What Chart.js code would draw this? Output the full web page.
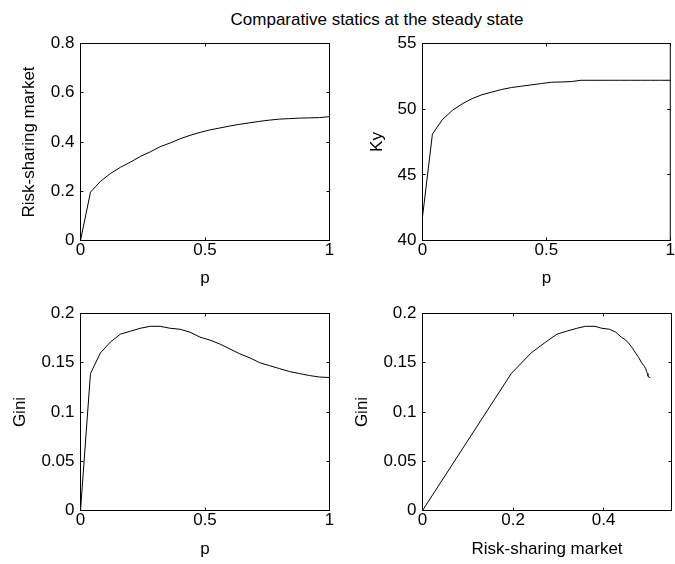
<!DOCTYPE html>
<html>
<head>
<meta charset="utf-8">
<script src="https://cdn.jsdelivr.net/npm/chart.js@4.4.1/dist/chart.umd.min.js"></script>
<style>
    body { margin: 0; background: #fff; }
    #fig { position: relative; width: 675px; height: 564px; overflow: hidden; background: #fff; }
    #fig canvas { position: absolute; left: 0; top: 0; }
    #title {
        position: absolute; left: 377px; top: 10px; transform: translateX(-50%);
        white-space: nowrap; font: 17px "Liberation Sans", Arial, sans-serif;
        line-height: 20px; color: #000;
    }
</style>
</head>
<body>
<div id="fig">
    <div id="title">Comparative statics at the steady state</div>
    <canvas id="marketChart" width="675" height="564"></canvas>
    <canvas id="kyChart" width="675" height="564"></canvas>
    <canvas id="giniChart" width="675" height="564"></canvas>
    <canvas id="giniMarketChart" width="675" height="564"></canvas>
</div>
<script>
// Ma'lumotlar (rasmdan o'qilgan)
const pValues = [0, 0.04, 0.08, 0.12, 0.16, 0.2, 0.24, 0.28, 0.32, 0.36, 0.4, 0.44, 0.48,
    0.52, 0.56, 0.6, 0.64, 0.68, 0.72, 0.76, 0.8, 0.84, 0.88, 0.92, 0.96, 1];
const riskSharing = [0, 0.196, 0.240, 0.272, 0.297, 0.318, 0.341, 0.360, 0.381, 0.396, 0.413,
    0.427, 0.439, 0.449, 0.457, 0.465, 0.472, 0.478, 0.484, 0.489, 0.493, 0.495, 0.497,
    0.498, 0.499, 0.503];
const capitalOutput = [41.8, 48.1, 49.2, 49.9, 50.4, 50.8, 51.1, 51.3, 51.5, 51.65, 51.75,
    51.85, 51.95, 52.05, 52.07, 52.1, 52.2, 52.2, 52.2, 52.2, 52.2, 52.2, 52.2, 52.2, 52.2, 52.2];
const gini = [0, 0.139, 0.160, 0.171, 0.179, 0.182, 0.185, 0.187, 0.187, 0.185, 0.184, 0.181,
    0.176, 0.173, 0.169, 0.164, 0.159, 0.155, 0.150, 0.147, 0.144, 0.141, 0.139, 0.137,
    0.1355, 0.135];

// O'q belgilari
const pTicks = [0, 0.5, 1];
const marketTicks = [0, 0.2, 0.4, 0.6, 0.8];
const marketXTicks = [0, 0.2, 0.4];
const kyTicks = [40, 45, 50, 55];
const giniTicks = [0, 0.05, 0.1, 0.15, 0.2];

Chart.defaults.font.family = '"Liberation Sans", Arial, sans-serif';
Chart.defaults.font.size = 17;
Chart.defaults.color = '#000';

// MATLAB uslubidagi ramka va ichkariga qaragan belgilar
const boxPlugin = {
    id: 'boxPlugin',
    afterDraw(chart) {
        const { ctx, chartArea: a, scales: { x, y } } = chart;
        const len = 3;
        ctx.save();
        ctx.strokeStyle = '#000';
        ctx.lineWidth = 1;
        ctx.strokeRect(a.left, a.top, a.right - a.left, a.bottom - a.top);
        ctx.beginPath();
        x.ticks.forEach(t => {
            const px = Math.round(x.getPixelForValue(t.value) - 0.5) + 0.5;
            ctx.moveTo(px, a.bottom); ctx.lineTo(px, a.bottom - len);
            ctx.moveTo(px, a.top); ctx.lineTo(px, a.top + len);
        });
        y.ticks.forEach(t => {
            const py = Math.round(y.getPixelForValue(t.value) - 0.5) + 0.5;
            ctx.moveTo(a.left, py); ctx.lineTo(a.left + len, py);
            ctx.moveTo(a.right, py); ctx.lineTo(a.right - len, py);
        });
        ctx.stroke();
        ctx.restore();
    }
};

function makePanel(id, cfg) {
    return new Chart(document.getElementById(id), {
        type: 'scatter',
        data: {
            datasets: [{
                data: cfg.points,
                showLine: true,
                borderColor: '#000',
                borderWidth: 1,
                pointRadius: 0,
                tension: 0
            }]
        },
        options: {
            responsive: false,
            animation: false,
            events: [],
            layout: { autoPadding: false, padding: cfg.pad },
            plugins: { legend: { display: false }, tooltip: { enabled: false } },
            scales: {
                x: {
                    type: 'linear',
                    min: cfg.xMin, max: cfg.xMax,
                    grid: { display: false, drawTicks: false },
                    border: { display: false },
                    ticks: { padding: 0, autoSkip: false, maxRotation: 0, callback: v => String(v) },
                    afterBuildTicks: s => { s.ticks = cfg.xTicks.map(v => ({ value: v })); },
                    afterFit: s => { s.height = 50; },
                    title: { display: true, text: cfg.xLabel, padding: { top: 0, bottom: cfg.xTitlePad } }
                },
                y: {
                    type: 'linear',
                    min: cfg.yMin, max: cfg.yMax,
                    grid: { display: false, drawTicks: false },
                    border: { display: false },
                    ticks: { padding: 6, autoSkip: false, callback: v => String(v) },
                    afterBuildTicks: s => { s.ticks = cfg.yTicks.map(v => ({ value: v })); },
                    afterFit: s => { s.width = cfg.yWidth; },
                    title: { display: true, text: cfg.yLabel, padding: { top: cfg.yTitlePad, bottom: 0 } }
                }
            }
        },
        plugins: [boxPlugin]
    });
}

makePanel('marketChart', {
    points: pValues.map((p, i) => ({ x: p, y: riskSharing[i] })),
    xMin: 0, xMax: 1, xTicks: pTicks,
    yMin: 0, yMax: 0.8, yTicks: marketTicks,
    xLabel: 'p', yLabel: 'Risk-sharing market',
    pad: { left: 0, top: 43.5, right: 345.5, bottom: 273.5 },
    yWidth: 80.5, yTitlePad: 18.8, xTitlePad: 2.4
});

makePanel('kyChart', {
    points: pValues.map((p, i) => ({ x: p, y: capitalOutput[i] })),
    xMin: 0, xMax: 1, xTicks: pTicks,
    yMin: 40, yMax: 55, yTicks: kyTicks,
    xLabel: 'p', yLabel: 'Ky',
    pad: { left: 340, top: 43.5, right: 3.5, bottom: 273.5 },
    yWidth: 82.5, yTitlePad: 27.1, xTitlePad: 2.4
});

makePanel('giniChart', {
    points: pValues.map((p, i) => ({ x: p, y: gini[i] })),
    xMin: 0, xMax: 1, xTicks: pTicks,
    yMin: 0, yMax: 0.2, yTicks: giniTicks,
    xLabel: 'p', yLabel: 'Gini',
    pad: { left: 0, top: 313.5, right: 345.5, bottom: 3.5 },
    yWidth: 80.5, yTitlePad: 10.6, xTitlePad: 0.8
});

makePanel('giniMarketChart', {
    points: riskSharing.map((m, i) => ({ x: m, y: gini[i] })),
    xMin: 0, xMax: 0.55, xTicks: marketXTicks,
    yMin: 0, yMax: 0.2, yTicks: giniTicks,
    xLabel: 'Risk-sharing market', yLabel: 'Gini',
    pad: { left: 340, top: 313.5, right: 3.5, bottom: 3.5 },
    yWidth: 82.5, yTitlePad: 12.2, xTitlePad: 0.8
});
</script>
</body>
</html>
